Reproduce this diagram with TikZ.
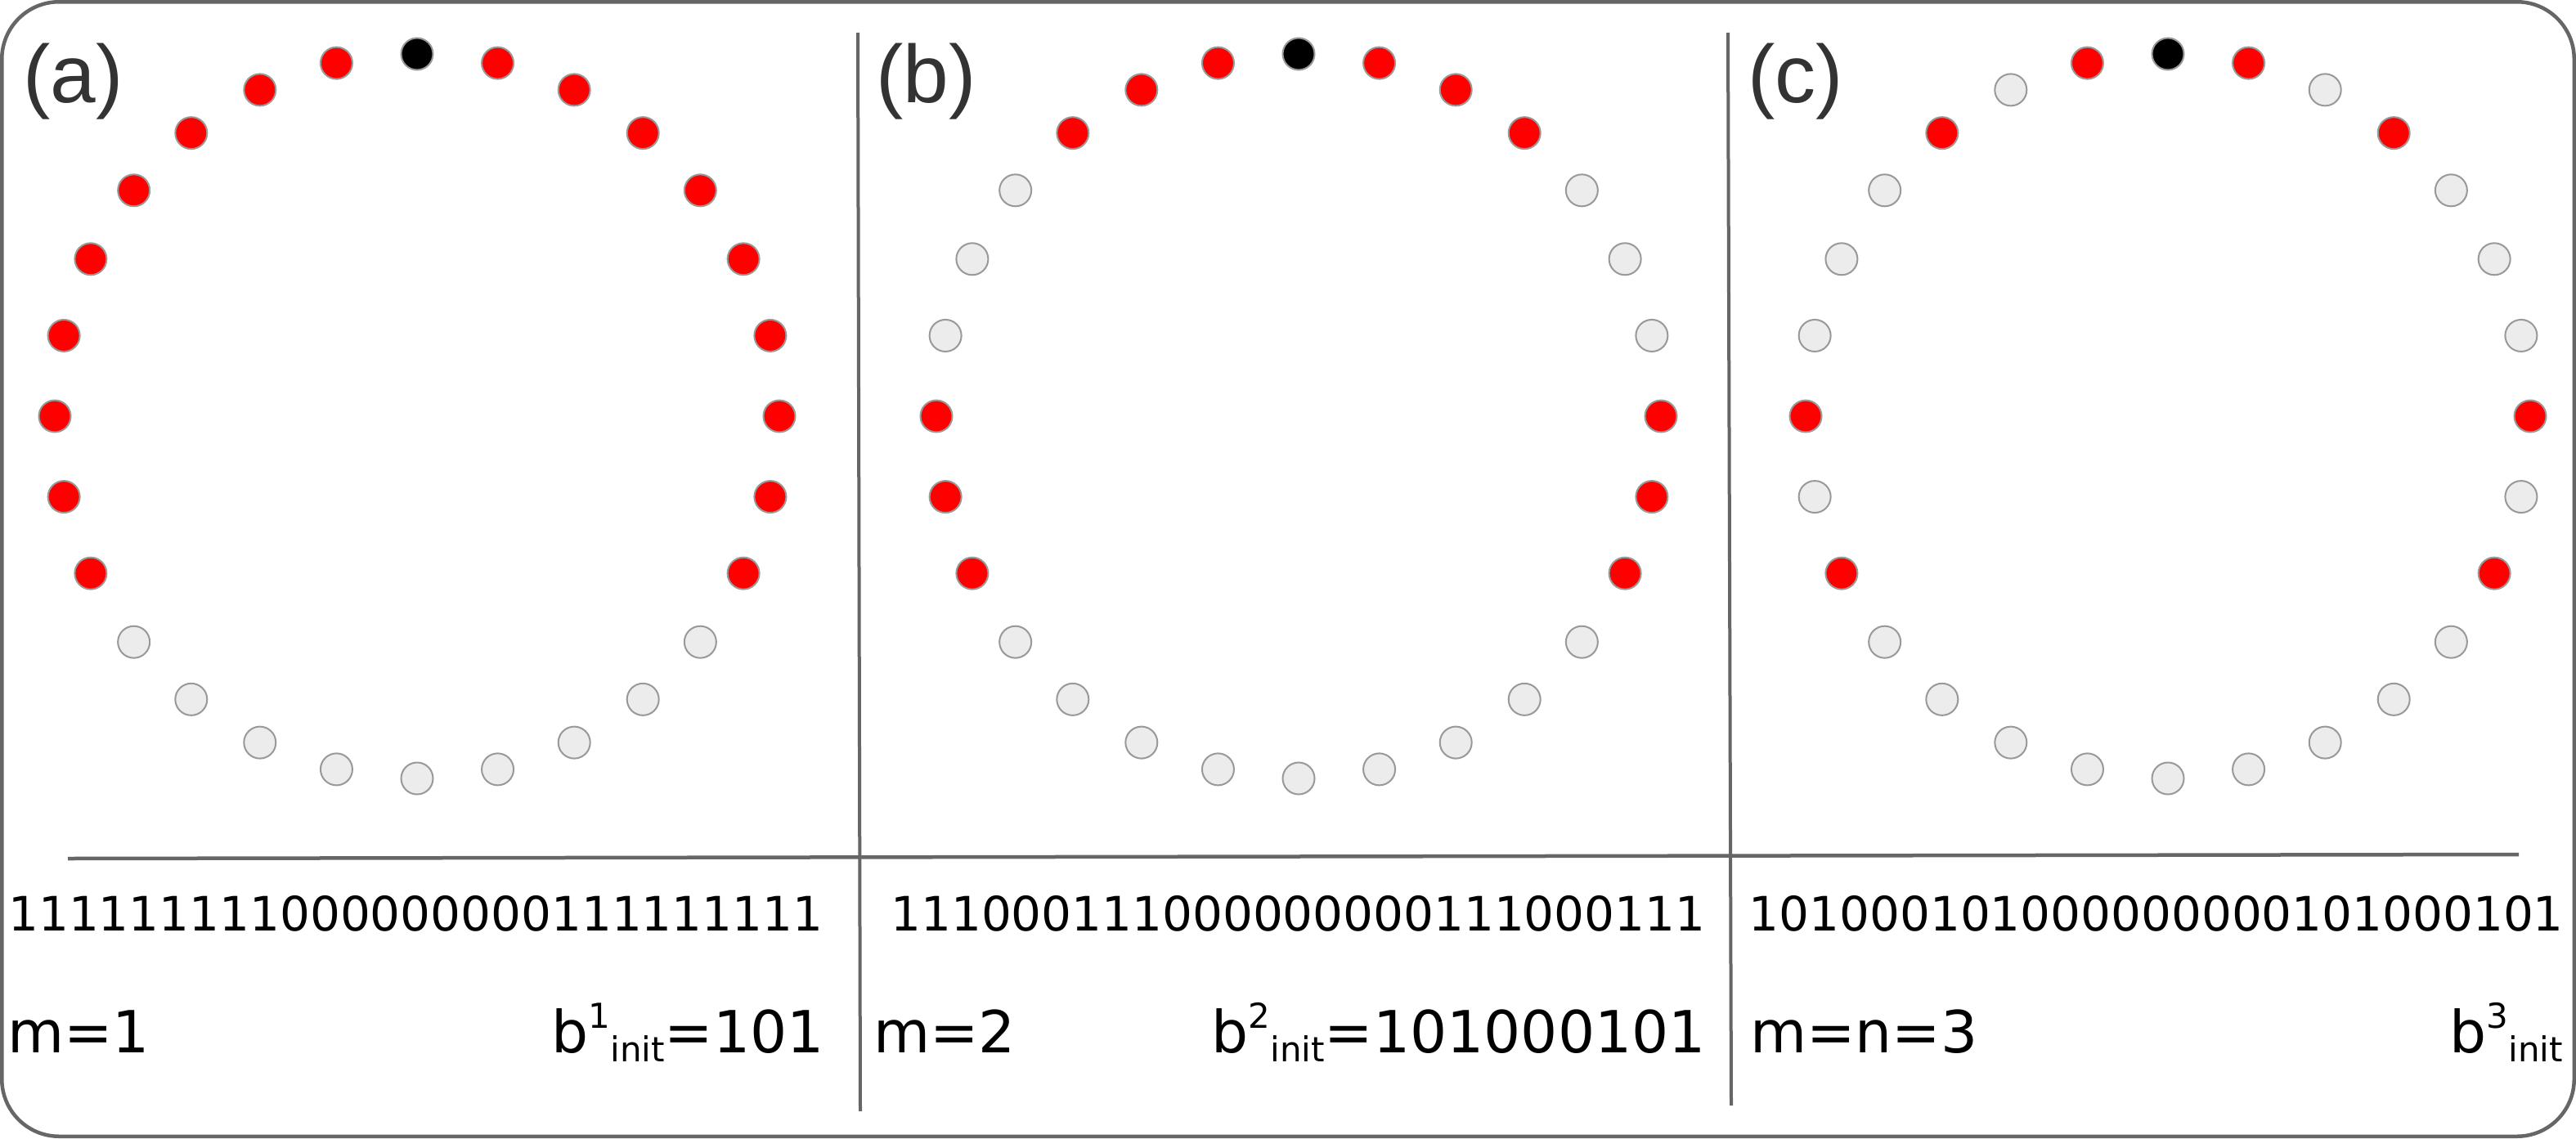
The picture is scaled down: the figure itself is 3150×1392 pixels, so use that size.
\documentclass[tikz,border=0pt]{standalone}
\usepackage{fontspec}
\usepackage{graphicx}
\setmainfont{DejaVu Sans}
\newfontfamily\labfont{Liberation Sans}
\definecolor{framegray}{HTML}{666666}
\definecolor{dotedge}{HTML}{999999}
\definecolor{dotgray}{HTML}{ECECEC}
\definecolor{labgray}{HTML}{333333}
\newcommand{\supsub}[2]{\raisebox{30pt}{\fontsize{42}{44}\selectfont #1}\raisebox{-11pt}{\fontsize{42}{44}\selectfont #2}}
\newcommand{\drawring}[3]{%
  \node[dot, fill=black] (#1-0) at (#2, 66) {};
  \foreach \b [count=\j] in {#3} {
    \pgfmathsetmacro{\ang}{90-\j*360/28}
    \ifnum\b=1 \def\fillc{red}\else\def\fillc{dotgray}\fi
    \node[dot, fill=\fillc] (#1-\j) at ({#2+443*cos(\ang)}, {509-443*sin(\ang)}) {};
  }%
}
\begin{document}
\begin{tikzpicture}[x=1pt,y=-1pt,
  dot/.style={circle, draw=dotedge, line width=2pt, minimum size=39pt, inner sep=0pt},
  outerframe/.style={draw=framegray, line width=4.5pt, rounded corners=70pt},
  divider/.style={draw=framegray, line width=4pt},
  lab/.style={font=\labfont\fontsize{100}{110}\selectfont, text=labgray, inner sep=0pt, anchor=base west},
  bits/.style={font=\fontsize{58}{60}\selectfont, inner sep=0pt, anchor=base},
  info/.style={font=\fontsize{71}{75}\selectfont, inner sep=0pt}]
\useasboundingbox (0,0) rectangle (3150,1392);
\fill[white] (0,0) rectangle (3150,1392);
\draw[outerframe] (2.25,2.25) rectangle (3147.75,1389.75);
% dividers
\coordinate (v1t) at (1049,40); \coordinate (v1b) at (1052,1359);
\coordinate (v2t) at (2113,40); \coordinate (v2b) at (2117,1352);
\coordinate (hl) at (83,1050); \coordinate (hr) at (3080,1045);
\draw[divider] (v1t) -- (v1b);
\draw[divider] (v2t) -- (v2b);
\draw[divider, line width=4.5pt] (hl) -- (hr);
% rings
\drawring{a}{510}{1,1,1,1,1,1,1,1,1,0,0,0,0,0,0,0,0,0,1,1,1,1,1,1,1,1,1}
\drawring{b}{1588}{1,1,1,0,0,0,1,1,1,0,0,0,0,0,0,0,0,0,1,1,1,0,0,0,1,1,1}
\drawring{c}{2651}{1,0,1,0,0,0,1,0,1,0,0,0,0,0,0,0,0,0,1,0,1,0,0,0,1,0,1}
% labels
\node[lab] (la) at (28,125) {(a)};
\node[lab] (lb) at (1071,125) {(b)};
\node[lab] (lc) at (2137,125) {(c)};
% bit strings
\node[bits] (sa) at (508.5,1138) {111111111000000000111111111};
\node[bits] (sb) at (1587.5,1138) {111000111000000000111000111};
\node[bits] (sc) at (2637,1138) {101000101000000000101000101};
% info row
\node[info, anchor=base west] (ma) at (9,1287) {m=1};
\node[info, anchor=base west] (mb) at (1068,1287) {m=2};
\node[info, anchor=base west] (mc) at (2140,1287) {m=n=3};
\node[info, anchor=base east] (ba) at (1008,1287) {b\supsub{1}{init}=101};
\node[info, anchor=base east] (bb) at (2086,1287) {b\supsub{2}{init}=101000101};
\node[info, anchor=base east] (bc) at (3134,1287) {b\supsub{3}{init}};
\end{tikzpicture}
\end{document}
